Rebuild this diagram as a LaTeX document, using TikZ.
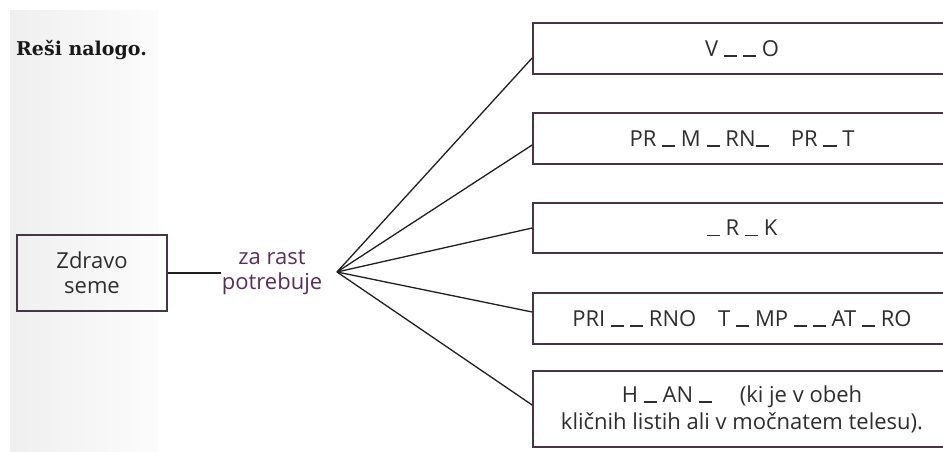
\documentclass[tikz,border=0pt]{standalone}
\usepackage{fontspec}
\setmainfont{Open Sans}
\newfontfamily\titlefont{DejaVu Serif}
\definecolor{boxline}{HTML}{453545}
\definecolor{txt}{HTML}{2E2E2E}
\definecolor{purp}{HTML}{5A2D5C}
\definecolor{panelL}{HTML}{EFEFEF}
\definecolor{panelR}{HTML}{FCFCFC}
\tikzset{
  answerbox/.style={draw=boxline, line width=1.7pt, minimum width=418pt, text=txt,
    font=\fontsize{22}{27}\selectfont, align=center, inner sep=0pt},
  seedbox/.style={draw=boxline, line width=1.7pt, minimum width=150pt, minimum height=76pt,
    text=txt, font=\fontsize{22}{25}\selectfont, align=center, inner sep=0pt},
  conn/.style={draw=black!88, line width=1.3pt},
}
\newcommand{\bl}{\rule[-0.5pt]{0.6em}{1.3pt}}
\begin{document}
\begin{tikzpicture}[x=1pt,y=-1pt]
\clip (0,0) rectangle (943,452);
\fill[white] (0,0) rectangle (943,452);
\shade[left color=panelL, right color=panelR] (10,11) rectangle (158,452);
\node[font=\titlefont\bfseries\fontsize{19}{22}\selectfont, text=black!90, anchor=west, inner sep=0pt] (title) at (16,50) {Reši nalogo.};
\node[seedbox] (seed) at (92,273) {Zdravo\\seme};
\node[text=purp, font=\fontsize{22}{25}\selectfont, align=center, inner sep=1pt] (need) at (272,272) {za rast\\potrebuje};
\coordinate (fan) at (337,272);
\node[answerbox, minimum height=51pt] (b1) at (742,48.5) {V \bl\ \bl\ O};
\node[answerbox, minimum height=51pt] (b2) at (742,138.5) {PR \bl\ M \bl\ RN\bl\quad PR \bl\ T};
\node[answerbox, minimum height=50pt] (b3) at (742,228) {\bl\ R \bl\ K};
\node[answerbox, minimum height=51pt] (b4) at (742,318.5) {PRI \bl\ \bl\ RNO\quad T \bl\ MP \bl\ \bl\ AT \bl\ RO};
\node[answerbox, minimum height=76pt] (b5) at (742,409) {H \bl\ AN \bl\quad\ (ki je v obeh\\kličnih listih ali v močnatem telesu).};
\draw[conn] (seed.east) -- (seed.east -| need.west);
\draw[conn] (fan) -- ([yshift=-9.5pt]b1.west);
\draw[conn] (fan) -- ([yshift=-6.5pt]b2.west);
\draw[conn] (fan) -- (b3.west);
\draw[conn] (fan) -- ([yshift=6.5pt]b4.west);
\draw[conn] (fan) -- ([yshift=4pt]b5.west);
\end{tikzpicture}
\end{document}
